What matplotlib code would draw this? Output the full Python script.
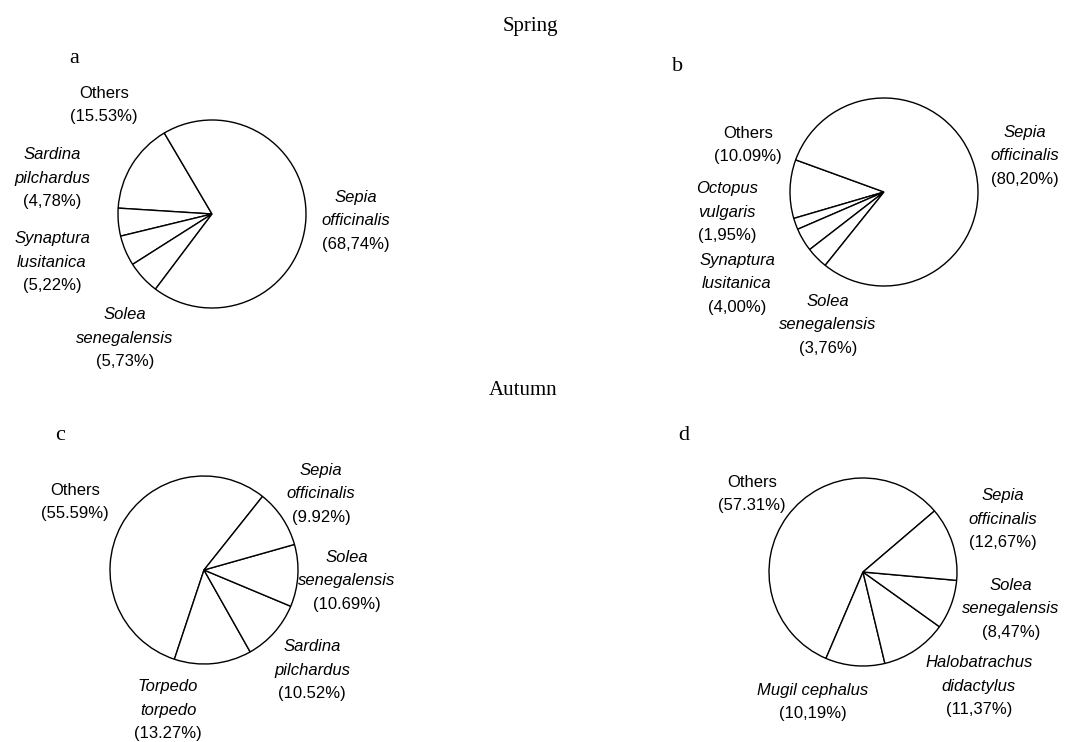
import matplotlib
matplotlib.use("Agg")
import matplotlib.pyplot as plt

W, H = 1079, 742

# a - spring
a_names = ["Others", "Sardina\npilchardus", "Synaptura\nlusitanica",
           "Solea\nsenegalensis", "Sepia\nofficinalis"]
a_pct = ["15.53", "4,78", "5,22", "5,73", "68,74"]

# b - spring
b_names = ["Others", "Octopus\nvulgaris", "Synaptura\nlusitanica",
           "Solea\nsenegalensis", "Sepia\nofficinalis"]
b_pct = ["10.09", "1,95", "4,00", "3,76", "80,20"]

# c - autumn
c_names = ["Others", "Torpedo\ntorpedo", "Sardina\npilchardus",
           "Solea\nsenegalensis", "Sepia\nofficinalis"]
c_pct = ["55.59", "13.27", "10.52", "10.69", "9.92"]

# d - autumn
d_names = ["Others", "Mugil cephalus", "Halobatrachus\ndidactylus",
           "Solea\nsenegalensis", "Sepia\nofficinalis"]
d_pct = ["57.31", "10,19", "11,37", "8,47", "12,67"]

panels = [
    # letter, names, pct, centre (px), start angle, letter pos, label positions
    ("a", a_names, a_pct, (212, 214), 120.5, (74, 63),
     [(104, 105), (52, 178), (52, 262), (125, 338), (356, 221)]),
    ("b", b_names, b_pct, (884, 192), 160, (678, 71),
     [(748, 145), (727, 212), (737, 284), (828, 325), (1025, 156)]),
    ("c", c_names, c_pct, (204, 570), 51.5, (60, 440),
     [(75, 502), (168, 710), (312, 670), (347, 581), (321, 494)]),
    ("d", d_names, d_pct, (863, 572), 40.5, (684, 440),
     [(752, 494), (813, 702), (979, 686), (1011, 609), (1003, 519)]),
]

R = 94
STEP = 23.5

fig = plt.figure(figsize=(W / 100, H / 100), dpi=100)
fig.patch.set_facecolor("white")


def fx(x):
    return x / W


def fy(y):
    return 1 - y / H


def put_label(x, y, name, pct):
    lines = name.split("\n")
    n = len(lines) + 1
    top = y - (n - 1) * STEP / 2
    style = "normal" if name == "Others" else "italic"
    for i, ln in enumerate(lines):
        fig.text(fx(x), fy(top + i * STEP), ln, ha="center", va="center",
                 fontsize=12, style=style, family="Liberation Sans")
    fig.text(fx(x), fy(top + len(lines) * STEP), "(%s%%)" % pct,
             ha="center", va="center", fontsize=12, family="Liberation Sans")


for letter, names, pct, (cx, cy), start, (lx, ly), lpos in panels:
    vals = [float(p.replace(",", ".")) for p in pct]
    ax = fig.add_axes([fx(cx - R - 2), fy(cy + R + 2),
                       (2 * R + 4) / W, (2 * R + 4) / H])
    ax.pie(vals, startangle=start, counterclock=True,
           colors=["white"] * len(vals),
           wedgeprops=dict(edgecolor="black", linewidth=1.0))
    lim = (R + 2) / R
    ax.set_xlim(-lim, lim)
    ax.set_ylim(-lim, lim)
    ax.set_aspect("equal")
    ax.axis("off")
    fig.text(fx(lx), fy(ly), letter, ha="center", va="baseline",
             fontsize=16, family="Liberation Serif")
    for (x, y), nm, p in zip(lpos, names, pct):
        put_label(x, y, nm, p)

fig.text(fx(530), fy(31), "Spring", ha="center", va="baseline",
         fontsize=15, family="Liberation Serif")
fig.text(fx(523), fy(395), "Autumn", ha="center", va="baseline",
         fontsize=15, family="Liberation Serif")

fig.savefig("out.png", dpi=100, facecolor="white")
